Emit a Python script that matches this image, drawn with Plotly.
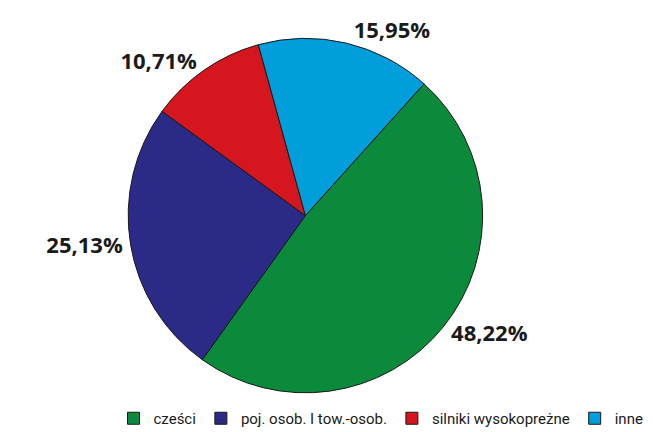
import plotly.graph_objects as go

categories = ["cześci", "poj. osob. I tow.-osob.", "silniki wysokopreżne", "inne"]
values = [48.22, 25.13, 10.71, 15.95]
colors = ["#0b8a3c", "#2b2a86", "#d5161f", "#009fdb"]

fig = go.Figure(go.Pie(
    labels=categories,
    values=values,
    sort=False,
    direction="clockwise",
    rotation=42,
    marker=dict(colors=colors, line=dict(color="#1a1a1a", width=1)),
    texttemplate="%{value:.2f}%",
    textposition="outside",
    textfont=dict(family="Open Sans", size=22, color="#1a1a1a", weight="bold"),
    outsidetextfont=dict(family="Open Sans", size=22, color="#1a1a1a", weight="bold"),
    domain=dict(x=[0.0, 0.72], y=[0.1, 0.94]),
    showlegend=True,
))

fig.update_layout(
    width=653, height=432,
    separators=",.",
    margin=dict(l=10, r=10, t=5, b=5),
    paper_bgcolor="white",
    plot_bgcolor="white",
    legend=dict(
        orientation="h", x=0.5, xanchor="center", y=0.0, yanchor="bottom",
        font=dict(family="Roboto", size=15, color="#1a1a1a"),
        itemwidth=30,
    ),
)

fig.write_html("out.html")
